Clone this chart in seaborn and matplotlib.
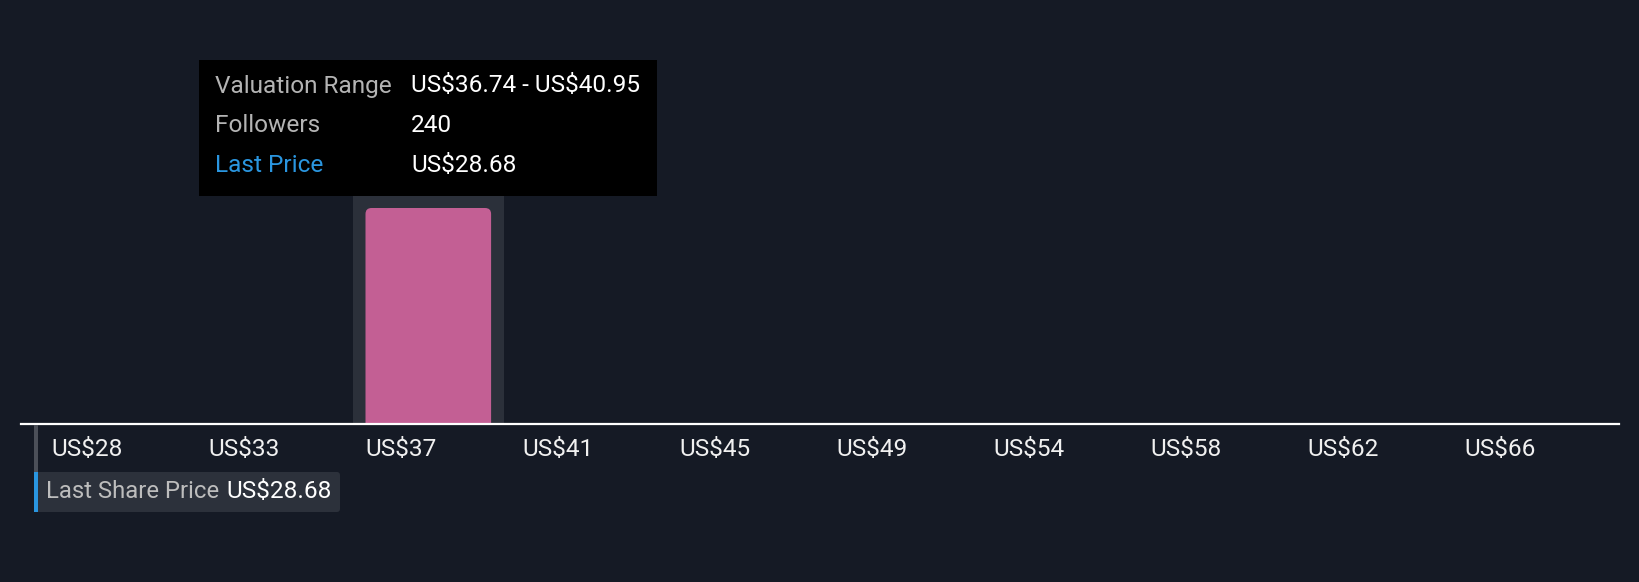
import matplotlib
matplotlib.use("Agg")
import matplotlib.pyplot as plt
from matplotlib.patches import Rectangle, FancyBboxPatch
import seaborn as sns
import numpy as np

# ---- data ----
bin_edges = [28.32, 32.53, 36.74, 40.95, 45.16, 49.37, 53.58, 57.79, 62.00, 66.21]
bin_width = 4.21
followers = [0, 0, 240, 0, 0, 0, 0, 0, 0, 0]
tick_labels = ["US$28", "US$33", "US$37", "US$41", "US$45",
               "US$49", "US$54", "US$58", "US$62", "US$66"]
last_price = 28.68
hover_low, hover_high = 36.74, 40.95
hover_followers = 240

BG = "#151a25"
PINK = "#c35f94"
HILITE = "#2b303a"
FONT = ["Roboto", "DejaVu Sans"]
FS = 17.6

sns.set_theme(style="dark")
plt.rcParams["font.family"] = FONT
plt.rcParams["text.parse_math"] = False

W, H = 1640, 582
fig = plt.figure(figsize=(W / 100, H / 100), dpi=100, facecolor=BG)

ax_l, ax_r, ax_b, ax_t = 21, 1619, 424, 60
ax = fig.add_axes([ax_l / W, 1 - ax_b / H, (ax_r - ax_l) / W, (ax_b - ax_t) / H])
ax.set_facecolor(BG)

centers = [e + 0.4 * bin_width for e in bin_edges]
sns.barplot(x=centers, y=followers, native_scale=True, color=PINK,
            saturation=1, ax=ax, zorder=3)

# axis limits: first edge at pixel 51.5, one bin = 157 px
px_per_unit = 157 / bin_width
x0 = bin_edges[0] - (51.5 - ax_l) / px_per_unit
x1 = bin_edges[0] + (ax_r - 51.5) / px_per_unit
ax.set_xlim(x0, x1)
ytop = max(followers) * (ax_b - ax_t) / (ax_b - 208)
ax.set_ylim(0, ytop)
py_per_unit = (ax_b - ax_t) / ytop

# restyle bars: rounded top corners, highlight behind hovered bar
for p, v in zip(list(ax.patches), followers):
    if v <= 0:
        p.remove()
        continue
    bx, bw, bh = p.get_x(), p.get_width(), p.get_height()
    p.remove()
    r_px = 6
    rx = r_px / px_per_unit
    ry = r_px / py_per_unit
    bar = FancyBboxPatch((bx, -2 * ry), bw, bh + 2 * ry,
                         boxstyle=f"round,pad=0,rounding_size={rx}",
                         mutation_aspect=ry / rx, facecolor=PINK,
                         edgecolor="none", zorder=3, clip_on=True)
    ax.add_patch(bar)
    padx = 13 / px_per_unit
    pady = 12 / py_per_unit
    ax.add_patch(Rectangle((bx - padx, 0), bw + 2 * padx, bh + pady,
                           facecolor=HILITE, edgecolor="none", zorder=2))

ax.set_xticks(bin_edges)
ax.set_xticklabels(tick_labels, ha="left", color="#f0f0f0", fontsize=FS,
                   family=FONT)
ax.tick_params(axis="x", length=0, pad=9.8)
ax.set_yticks([])
ax.set_xlabel("")
ax.set_ylabel("")
ax.grid(False)
for s in ["top", "left", "right"]:
    ax.spines[s].set_visible(False)
ax.spines["bottom"].set_color("white")
ax.spines["bottom"].set_linewidth(1.6)
ax.spines["bottom"].set_zorder(5)

# ---- tooltip ----
def fx(px):
    return px / W

def fy(py):
    return 1 - py / H

fig.patches.append(Rectangle((fx(199), fy(196)), (657 - 199) / W, (196 - 60) / H,
                             transform=fig.transFigure, facecolor="black",
                             edgecolor="none", zorder=10))
rows = [("Valuation Range", f"US${hover_low:.2f} - US${hover_high:.2f}", "#b4b4b4"),
        ("Followers", f"{hover_followers}", "#b4b4b4"),
        ("Last Price", f"US${last_price:.2f}", "#2a96e0")]
for i, (lab, val, c) in enumerate(rows):
    yy = fy(86 + i * 39.7)
    fig.text(fx(215.5), yy, lab, color=c, fontsize=FS, va="center", ha="left",
             family=FONT, zorder=11)
    fig.text(fx(411), yy, val, color="white", fontsize=FS, va="center",
             ha="left", family=FONT, zorder=11)

# ---- last share price marker ----
fig.patches.append(Rectangle((fx(34), fy(472)), 3.5 / W, (472 - 425) / H,
                             transform=fig.transFigure, facecolor="#4b4f58",
                             edgecolor="none", zorder=6))
fig.patches.append(FancyBboxPatch((fx(34), fy(512)), (340 - 34) / W, 40 / H,
                                  boxstyle="round,pad=0,rounding_size=0.002",
                                  mutation_aspect=W / H,
                                  transform=fig.transFigure, facecolor="#2c313b",
                                  edgecolor="none", zorder=6))
fig.patches.append(Rectangle((fx(34), fy(512)), 3.5 / W, 40 / H,
                             transform=fig.transFigure, facecolor="#2a96e0",
                             edgecolor="none", zorder=7))
fig.text(fx(46.5), fy(491), "Last Share Price", color="#bdbdbd", fontsize=17.2,
         va="center", ha="left", family=FONT, zorder=8)
fig.text(fx(226), fy(491), f"US${last_price:.2f}", color="white", fontsize=FS,
         va="center", ha="left", family=FONT, zorder=8)

fig.savefig("out.png", dpi=100, facecolor=BG)
